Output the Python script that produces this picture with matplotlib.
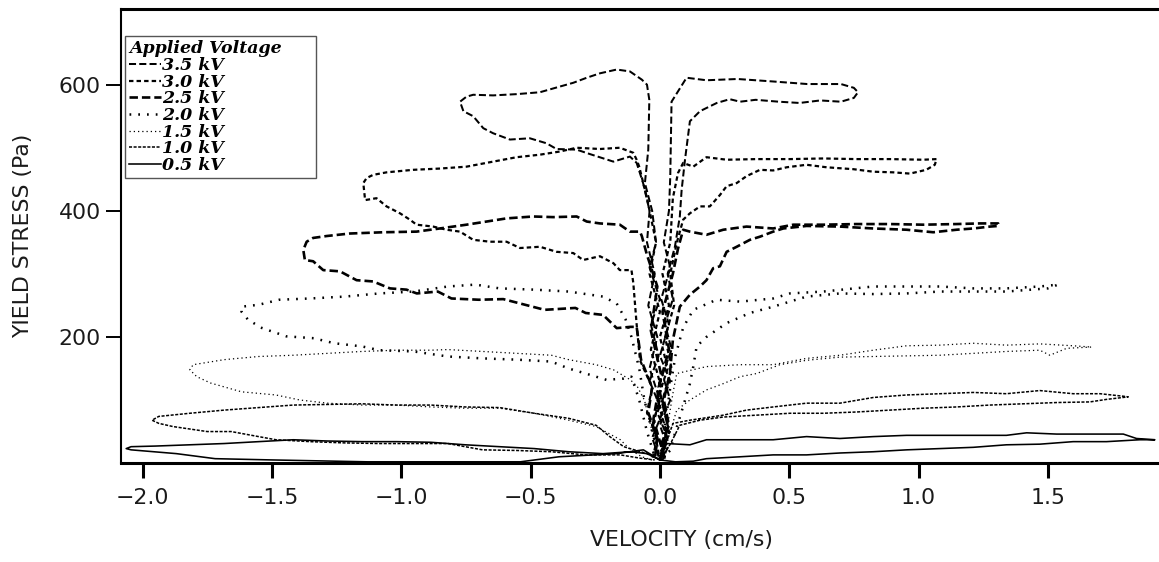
import matplotlib
matplotlib.use("Agg")
import matplotlib.pyplot as plt
from matplotlib.font_manager import FontProperties

# -----------------------------------------------------------------------------
# Data (velocity in cm/s, yield stress in Pa)
# each list: origin -> positive loop -> origin -> negative loop -> origin
# -----------------------------------------------------------------------------
v_35 = [0.00, 0.03, -0.01, 0.04, 0.00, 0.035, 0.005, 0.04, 0.015, 0.035, 0.04, 0.045, 0.103, 0.18, 0.30,
        0.44, 0.57, 0.70, 0.75, 0.766, 0.75, 0.70, 0.62, 0.54, 0.46, 0.37, 0.31, 0.27, 0.22, 0.18, 0.155,
        0.116, 0.097, 0.084, 0.077, 0.058, 0.03, 0.05, 0.02, 0.045, 0.01, 0.04, 0.00, 0.03, 0.01,
        0.00, -0.03, 0.01, -0.04, -0.005, -0.035, 0.00, -0.04, -0.015, -0.03, -0.058, -0.045, -0.041, -0.05,
        -0.07, -0.116, -0.167, -0.232, -0.283, -0.335, -0.387, -0.464, -0.554, -0.645, -0.722, -0.748, -0.773,
        -0.76, -0.722, -0.683, -0.645, -0.58, -0.503, -0.438, -0.4, -0.322, -0.271, -0.18, -0.116, -0.09,
        -0.065, -0.04, -0.05, -0.02, -0.045, -0.01, -0.04, 0.00, -0.03, 0.01, 0.00]
s_35 = [5, 40, 80, 130, 170, 220, 260, 310, 350, 400, 454, 573, 611, 607, 609,
        605, 601, 601, 595, 588, 579, 573, 575, 571, 573, 576, 573, 577, 571, 563, 558,
        542, 481, 433, 391, 343, 300, 260, 220, 180, 140, 100, 60, 25, 5,
        5, 40, 80, 130, 170, 220, 260, 310, 350, 400, 444, 497, 576, 600,
        608, 621, 624, 618, 611, 603, 597, 588, 585, 583, 584, 581, 573,
        558, 550, 531, 523, 513, 515, 507, 498, 497, 490, 478, 486, 476,
        444, 400, 350, 300, 250, 200, 150, 100, 60, 25, 5]

v_30 = [0.0, 0.025, -0.01, 0.03, 0.0, 0.035, 0.01, 0.04, 0.05, 0.07, 0.09, 0.129, 0.18, 0.258, 0.374, 0.503,
        0.632, 0.76, 0.89, 1.018, 1.07, 1.063, 1.03, 0.967, 0.902, 0.825, 0.748, 0.645, 0.567, 0.49, 0.438,
        0.387, 0.335, 0.297, 0.258, 0.232, 0.193, 0.155, 0.116, 0.09, 0.065, 0.04, 0.055, 0.02, 0.045, 0.01,
        0.035, 0.0,
        -0.025, 0.005, -0.035, 0.0, -0.04, -0.015, -0.05, -0.08, -0.09, -0.103, -0.155, -0.232, -0.322, -0.387,
        -0.464, -0.554, -0.645, -0.748, -0.851, -0.954, -1.057, -1.109, -1.134, -1.147, -1.14, -1.096, -1.057,
        -1.005, -0.967, -0.941, -0.877, -0.825, -0.773, -0.722, -0.657, -0.593, -0.541, -0.464, -0.4, -0.335,
        -0.297, -0.232, -0.18, -0.155, -0.11, -0.103, -0.09, -0.077, -0.03, -0.05, -0.01, -0.03]
s_30 = [5, 50, 100, 150, 200, 250, 300, 350, 420, 460, 476, 470, 485, 481, 482, 482,
        483, 482, 482, 481, 482, 473, 465, 459, 461, 462, 466, 469, 473, 469, 464,
        465, 455, 444, 439, 425, 407, 407, 396, 386, 349, 300, 250, 200, 150, 100,
        50, 5,
        60, 120, 180, 240, 300, 350, 420, 470, 481, 492, 500, 498, 500, 494,
        489, 485, 478, 470, 467, 465, 461, 457, 452, 444, 417, 420, 407,
        396, 386, 378, 375, 370, 367, 354, 351, 351, 341, 343, 335, 333,
        322, 328, 317, 306, 306, 286, 220, 163, 120, 80, 40, 5]

v_25 = [0.0, 0.03, -0.005, 0.035, 0.01, 0.05, 0.07, 0.09, 0.116, 0.18, 0.245, 0.335, 0.438, 0.516, 0.632,
        0.76, 0.89, 1.018, 1.147, 1.237, 1.308, 1.31, 1.276, 1.212, 1.147, 1.057, 0.954, 0.825, 0.696, 0.567,
        0.477, 0.438, 0.387, 0.348, 0.297, 0.258, 0.232, 0.206, 0.18, 0.155, 0.116, 0.077, 0.05, 0.039, 0.015,
        0.035, 0.005, 0.02,
        -0.025, 0.005, -0.035, -0.01, -0.05, -0.07, -0.077, -0.116, -0.155, -0.232, -0.283, -0.322, -0.413,
        -0.49, -0.593, -0.67, -0.748, -0.851, -0.941, -1.07, -1.199, -1.289, -1.341, -1.366, -1.379, -1.373,
        -1.341, -1.302, -1.237, -1.173, -1.109, -1.044, -0.98, -0.94, -0.859, -0.806, -0.70, -0.606, -0.54,
        -0.446, -0.327, -0.287, -0.22, -0.167, -0.114, -0.09, -0.073, -0.03, -0.045, -0.01, -0.02]
s_25 = [5, 60, 120, 180, 240, 300, 340, 370, 367, 362, 370, 375, 372, 378, 378,
        379, 379, 378, 379, 380, 380, 376, 375, 372, 370, 366, 370, 372, 375, 376,
        372, 367, 359, 354, 343, 335, 312, 309, 290, 280, 267, 248, 195, 143, 100,
        60, 30, 5,
        70, 140, 210, 280, 330, 360, 367, 367, 378, 380, 383, 391, 390,
        391, 388, 383, 378, 372, 367, 366, 364, 360, 357, 351, 338, 322,
        320, 306, 304, 290, 288, 277, 275, 269, 272, 261, 259, 260, 253,
        243, 246, 238, 235, 214, 216, 216, 164, 120, 80, 40, 5]

v_20 = [0.0, 0.02, 0.04, 0.06, 0.09, 0.129, 0.219, 0.31, 0.438, 0.503, 0.632, 0.825, 0.954, 1.083, 1.212,
        1.34, 1.469, 1.54, 1.50, 1.34, 1.212, 1.083, 0.954, 0.825, 0.696, 0.567, 0.438, 0.348, 0.258, 0.18,
        0.142, 0.129, 0.116, 0.09, 0.06, 0.04, 0.0,
        -0.03, -0.06, -0.08, -0.11, -0.133, -0.167, -0.22, -0.353, -0.486, -0.62, -0.713, -0.82, -0.952,
        -1.085, -1.219, -1.352, -1.472, -1.552, -1.618, -1.618, -1.592, -1.538, -1.445, -1.339, -1.259,
        -1.152, -1.085, -0.952, -0.82, -0.686, -0.553, -0.42, -0.353, -0.287, -0.207, -0.14, -0.11, -0.08,
        -0.05, -0.02]
s_20 = [5, 60, 120, 170, 215, 243, 259, 256, 261, 269, 272, 280, 280, 280, 277,
        277, 280, 283, 277, 272, 272, 272, 269, 268, 269, 264, 248, 238, 222, 200,
        185, 153, 126, 90, 50, 20, 5,
        50, 100, 150, 200, 228, 253, 264, 272, 275, 277, 283, 280, 272,
        269, 264, 261, 259, 251, 248, 240, 227, 214, 201, 198, 190,
        185, 179, 177, 169, 166, 164, 161, 150, 142, 132, 134, 137, 100,
        50, 10]

v_15 = [0.0, 0.03, 0.05, 0.065, 0.18, 0.31, 0.438, 0.567, 0.696, 0.825, 0.954, 1.083, 1.212, 1.34, 1.469,
        1.598, 1.669, 1.573, 1.508, 1.469, 1.34, 1.212, 1.083, 0.954, 0.825, 0.696, 0.567, 0.464, 0.374, 0.31,
        0.245, 0.18, 0.116, 0.065, 0.04, 0.02, 0.0,
        -0.03, -0.06, -0.087, -0.114, -0.18, -0.247, -0.353, -0.42, -0.553, -0.686, -0.82, -0.886, -1.019,
        -1.152, -1.285, -1.418, -1.552, -1.685, -1.805, -1.818, -1.791, -1.738, -1.618, -1.485, -1.392,
        -1.285, -1.152, -1.019, -0.886, -0.753, -0.62, -0.486, -0.353, -0.247, -0.153, -0.114, -0.07, -0.03]
s_15 = [5, 60, 110, 142, 153, 156, 156, 166, 171, 179, 186, 187, 190, 187, 189,
        186, 184, 182, 171, 179, 177, 174, 171, 170, 169, 168, 163, 156, 142, 137,
        126, 116, 100, 84, 50, 20, 5,
        50, 100, 121, 132, 148, 156, 164, 171, 174, 177, 180, 179, 179,
        177, 174, 171, 169, 164, 156, 148, 137, 127, 113, 108, 100,
        95, 92, 92, 89, 87, 87, 79, 68, 58, 37, 21, 10, 5]

v_10 = [0.0, 0.03, 0.051, 0.116, 0.245, 0.335, 0.438, 0.567, 0.696, 0.825, 0.954, 1.083, 1.212, 1.34, 1.469,
        1.598, 1.702, 1.792, 1.811, 1.727, 1.663, 1.534, 1.405, 1.276, 1.147, 1.018, 0.89, 0.76, 0.632, 0.503,
        0.374, 0.245, 0.155, 0.077, 0.04, 0.0,
        -0.05, -0.14, -0.194, -0.247, -0.353, -0.486, -0.62, -0.753, -0.886, -1.019, -1.152, -1.285, -1.418,
        -1.552, -1.685, -1.818, -1.938, -1.964, -1.938, -1.884, -1.751, -1.658, -1.552, -1.485, -1.352,
        -1.219, -1.085, -0.82, -0.753, -0.686, -0.553, -0.42, -0.287, -0.153, -0.08, -0.02]
s_10 = [5, 40, 63, 68, 76, 84, 89, 95, 95, 104, 108, 110, 112, 110, 115,
        110, 110, 106, 105, 101, 97, 96, 94, 92, 89, 87, 84, 81, 79, 79,
        76, 73, 68, 60, 30, 5,
        15, 26, 42, 60, 71, 79, 88, 89, 92, 92, 94, 93, 92,
        88, 84, 79, 74, 68, 63, 58, 50, 50, 42, 37, 34,
        32, 31, 31, 26, 21, 20, 18, 13, 13, 8, 5]

v_05 = [0.0, 0.026, 0.116, 0.18, 0.31, 0.438, 0.567, 0.696, 0.825, 0.954, 1.083, 1.212, 1.34, 1.418, 1.534,
        1.663, 1.792, 1.843, 1.914, 1.856, 1.727, 1.598, 1.469, 1.34, 1.212, 1.083, 0.954, 0.825, 0.696, 0.567,
        0.438, 0.31, 0.18, 0.129, 0.06, 0.0,
        -0.064, -0.168, -0.39, -0.54, -1.13, -1.5, -1.72, -1.87, -2.045, -2.064, -2.045, -1.951, -1.818,
        -1.685, -1.552, -1.418, -1.285, -1.152, -1.019, -0.886, -0.753, -0.62, -0.486, -0.353, -0.22, -0.114,
        -0.05, 0.0]
s_05 = [5, 31, 29, 37, 37, 37, 42, 39, 42, 44, 44, 44, 44, 48, 46,
        46, 46, 39, 37, 37, 34, 34, 30, 29, 25, 23, 21, 18, 16, 13,
        13, 10, 7, 3, 2, 5,
        21, 15, 10, 2, 2, 5, 7, 15, 21, 23, 26, 27, 29,
        31, 34, 37, 35, 34, 34, 33, 29, 26, 23, 18, 15, 18,
        15, 5]

labels = ["3.5 kV", "3.0 kV", "2.5 kV", "2.0 kV", "1.5 kV", "1.0 kV", "0.5 kV"]
x_ticks = [-2.0, -1.5, -1.0, -0.5, 0.0, 0.5, 1.0, 1.5]
y_ticks = [200, 400, 600]

# line styles per voltage: (linewidth pt, dash pattern in lw units or None)
styles = [
    (1.45, (3.5, 1.6)),
    (1.6, (2.0, 1.4)),
    (1.9, (3.2, 1.5)),
    (1.8, (0.7, 2.8)),
    (0.9, (1.0, 2.4)),
    (1.1, (2.0, 1.0)),
    (1.15, None),
]

series = [(v_35, s_35), (v_30, s_30), (v_25, s_25), (v_20, s_20),
          (v_15, s_15), (v_10, s_10), (v_05, s_05)]

# -----------------------------------------------------------------------------
# Figure
# -----------------------------------------------------------------------------
plt.rcParams["font.family"] = ["DejaVu Sans"]
text_col = "#1a1a1a"

fig = plt.figure(figsize=(11.59, 5.62), dpi=100)
ax = fig.add_axes([0.1044, 0.176, 0.8956, 0.808])

handles = []
for (v, s), (lw, dash), lab in zip(series, styles, labels):
    ls = "-" if dash is None else (0, dash)
    (ln,) = ax.plot(v, s, color="black", linewidth=lw, linestyle=ls, label=lab)
    handles.append(ln)

ax.set_xlim(-2.084, 1.93)
ax.set_ylim(0, 720)
ax.set_xticks(x_ticks)
ax.set_xticklabels([f"{t:.1f}".replace("-", "\u2212") for t in x_ticks])
ax.set_yticks(y_ticks)

# Spines and ticks
ax.spines["right"].set_visible(False)
ax.spines["top"].set_linewidth(2.2)
ax.spines["bottom"].set_linewidth(2.2)
ax.spines["left"].set_linewidth(1.5)
ax.tick_params(axis="x", direction="out", length=11, width=2.2, pad=7,
               labelsize=15.8, labelcolor=text_col)
ax.tick_params(axis="y", direction="out", length=11, width=1.4, pad=3.5,
               labelsize=15.8, labelcolor=text_col)

ax.set_xlabel("VELOCITY (cm/s)", fontsize=15.8, color=text_col)
ax.xaxis.label.set_verticalalignment("center")
ax.xaxis.set_label_coords(0.54, -0.17)
ax.set_ylabel("YIELD STRESS (Pa)", fontsize=15.8, color=text_col)
ax.yaxis.label.set(va="center", ha="center", rotation_mode="default")
ax.yaxis.set_label_coords(-0.0944, 0.5)

# Legend
leg_font = FontProperties(family="DejaVu Serif", style="italic", weight="bold", size=12.5)
leg = ax.legend(handles, labels, title="Applied Voltage", loc="upper left",
                bbox_to_anchor=(0.004, 0.0, 0.184, 0.9405), mode="expand",
                borderaxespad=0, frameon=True, fancybox=False, edgecolor="#555555",
                framealpha=1, prop=leg_font, title_fontproperties=leg_font,
                handlelength=1.8, handletextpad=0.1, labelspacing=-0.02,
                borderpad=0.25, alignment="left")
leg.get_frame().set_linewidth(1.0)

fig.savefig("out.png", dpi=100)
